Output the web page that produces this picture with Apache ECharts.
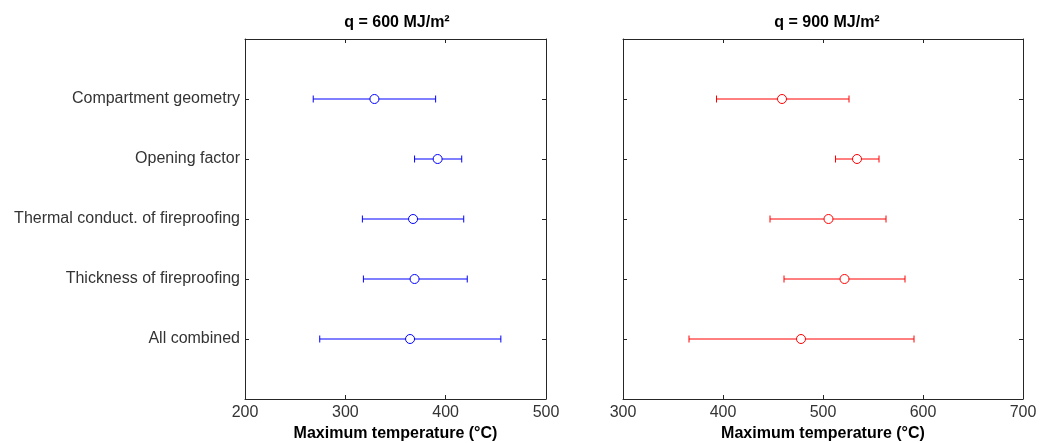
<!DOCTYPE html>
<html>
<head>
<meta charset="utf-8">
<script src="https://cdn.jsdelivr.net/npm/echarts@6/dist/echarts.min.js"></script>
<style>
html,body{margin:0;padding:0;background:#fff;}
#chart{width:1041px;height:443px;}
</style>
</head>
<body>
<div id="chart"></div>
<script>
const categories = ['Compartment geometry', 'Opening factor', 'Thermal conduct. of fireproofing', 'Thickness of fireproofing', 'All combined'];
const titles = ['q = 600 MJ/m\u00b2', 'q = 900 MJ/m\u00b2'];
const xAxisName = 'Maximum temperature (\u00b0C)';

const q600Mean = [329, 392, 367.5, 369, 364.5];
const q600Low  = [268, 369, 317, 318, 274.5];
const q600High = [390, 416, 418, 421.5, 455];

const q900Mean = [459, 534, 505.5, 521.5, 478];
const q900Low  = [393.5, 512.5, 447, 461, 366];
const q900High = [526, 556, 563, 582, 591];

const xTicks600 = [200, 300, 400, 500];
const xTicks900 = [300, 400, 500, 600, 700];

const FONT = 'Liberation Sans, Arial, sans-serif';
const AXC = '#262626';

const chart = echarts.init(document.getElementById('chart'), null, {renderer: 'canvas'});

function xAx(gi, ticks, pos, withLabels) {
  return {
    type: 'value', gridIndex: gi, position: pos,
    min: ticks[0], max: ticks[ticks.length - 1], interval: ticks[1] - ticks[0],
    splitLine: {show: false},
    axisLine: {show: true, onZero: false, lineStyle: {color: AXC, width: 1}},
    axisTick: {show: true, inside: true, length: 4, lineStyle: {color: AXC}},
    axisLabel: {show: withLabels, color: '#333', fontFamily: FONT, fontSize: 16, margin: 6},
    name: withLabels ? xAxisName : '',
    nameLocation: 'middle', nameGap: 24,
    nameTextStyle: {color: '#000', fontFamily: FONT, fontSize: 16, fontWeight: 'bold'}
  };
}
function yAx(gi, pos, withLabels) {
  return {
    type: 'value', gridIndex: gi, position: pos, inverse: true,
    min: 0, max: categories.length + 1, interval: 1,
    splitLine: {show: false},
    axisLine: {show: true, onZero: false, lineStyle: {color: AXC, width: 1}},
    axisTick: {show: true, inside: true, length: 4, lineStyle: {color: AXC}},
    axisLabel: {
      show: withLabels, color: '#333', fontFamily: FONT, fontSize: 16, margin: 5,
      formatter: v => categories[v - 1] || ''
    }
  };
}

function errSeries(xi, yi, low, high, color) {
  return {
    type: 'custom', xAxisIndex: xi, yAxisIndex: yi,
    data: categories.map((c, i) => [low[i], high[i], i + 1]),
    encode: {x: [0, 1], y: 2},
    renderItem: function (params, api) {
      const y = api.value(2);
      const a = api.coord([api.value(0), y]);
      const b = api.coord([api.value(1), y]);
      const h = 3.5;
      const st = {stroke: color, lineWidth: 1};
      return {
        type: 'group',
        children: [
          {type: 'line', shape: {x1: a[0], y1: a[1], x2: b[0], y2: b[1]}, style: st},
          {type: 'line', shape: {x1: a[0], y1: a[1] - h, x2: a[0], y2: a[1] + h}, style: st},
          {type: 'line', shape: {x1: b[0], y1: b[1] - h, x2: b[0], y2: b[1] + h}, style: st}
        ]
      };
    },
    silent: true, z: 2
  };
}
function meanSeries(xi, yi, mean, color) {
  return {
    type: 'scatter', xAxisIndex: xi, yAxisIndex: yi,
    data: categories.map((c, i) => [mean[i], i + 1]),
    symbol: 'circle', symbolSize: 9,
    itemStyle: {color: '#fff', borderColor: color, borderWidth: 1, opacity: 1},
    silent: true, z: 3
  };
}

chart.setOption({
  animation: false,
  backgroundColor: '#fff',
  title: [
    {text: titles[0], left: 392, top: 10, textAlign: 'center',
     textStyle: {fontFamily: FONT, fontSize: 16, fontWeight: 'bold', color: '#000'}},
    {text: titles[1], left: 822, top: 10, textAlign: 'center',
     textStyle: {fontFamily: FONT, fontSize: 16, fontWeight: 'bold', color: '#000'}}
  ],
  grid: [
    {left: 245, top: 39, width: 301, height: 360, containLabel: false, outerBoundsMode: 'none'},
    {left: 623, top: 39, width: 400, height: 360, containLabel: false, outerBoundsMode: 'none'}
  ],
  xAxis: [
    xAx(0, xTicks600, 'bottom', true),
    xAx(1, xTicks900, 'bottom', true),
    xAx(0, xTicks600, 'top', false),
    xAx(1, xTicks900, 'top', false)
  ],
  yAxis: [
    yAx(0, 'left', true),
    yAx(1, 'left', false),
    yAx(0, 'right', false),
    yAx(1, 'right', false)
  ],
  series: [
    errSeries(0, 0, q600Low, q600High, '#0000ff'),
    meanSeries(0, 0, q600Mean, '#0000ff'),
    errSeries(1, 1, q900Low, q900High, '#ff0000'),
    meanSeries(1, 1, q900Mean, '#ff0000')
  ]
});
</script>
</body>
</html>
